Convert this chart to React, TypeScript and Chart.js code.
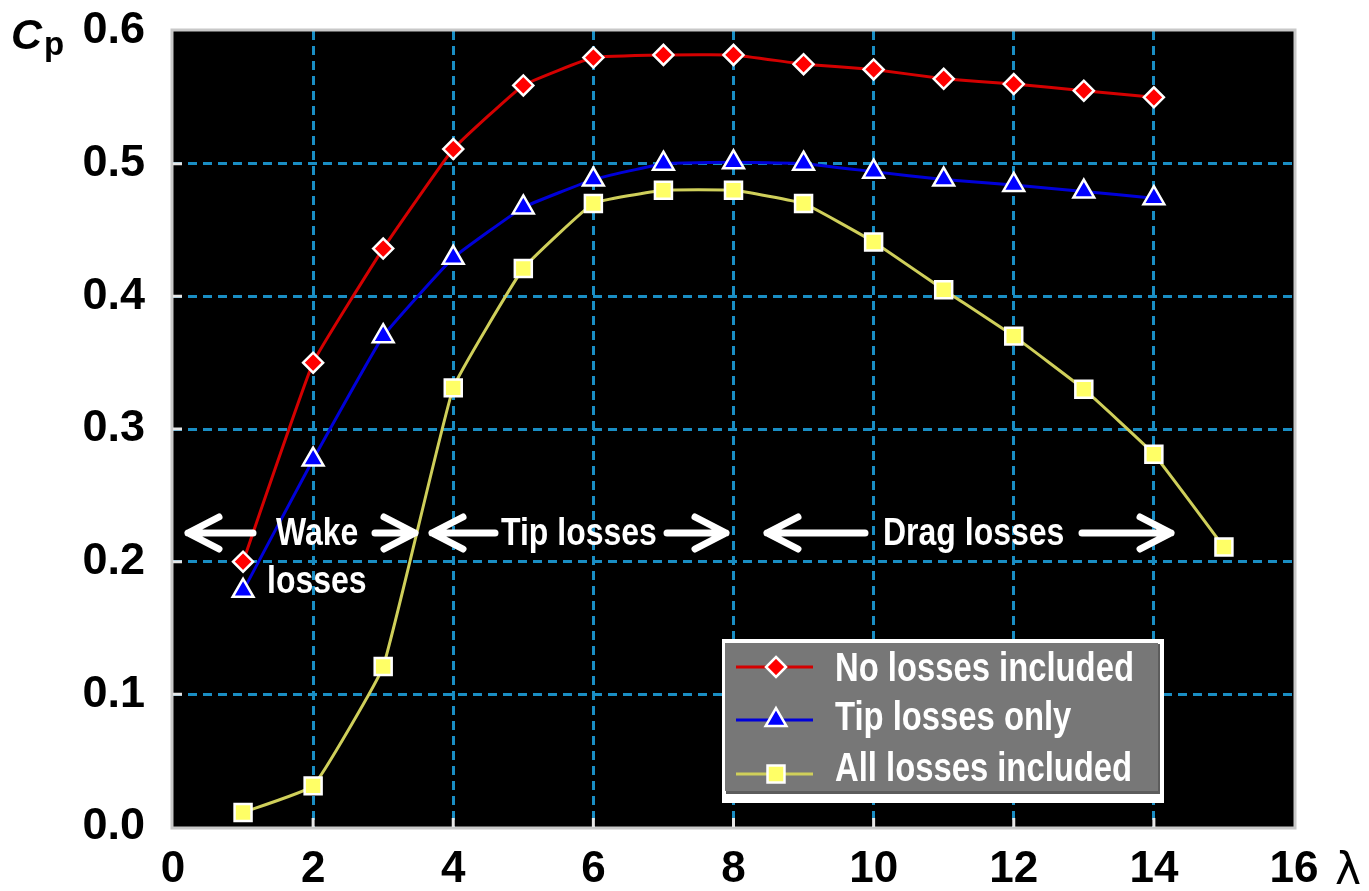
import React, { useEffect, useRef } from 'react';
import { Chart, registerables } from 'chart.js';

Chart.register(...registerables);

// ---------- data ----------
const lambdaShort = [1, 2, 3, 4, 5, 6, 7, 8, 9, 10, 11, 12, 13, 14];
const lambdaLong = [1, 2, 3, 4, 5, 6, 7, 8, 9, 10, 11, 12, 13, 14, 15];
const noLosses = [0.2, 0.35, 0.436, 0.511, 0.559, 0.58, 0.582, 0.582, 0.575, 0.571, 0.564, 0.56, 0.555, 0.55];
const tipOnly = [0.178, 0.277, 0.37, 0.429, 0.467, 0.488, 0.5, 0.501, 0.5, 0.494, 0.488, 0.484, 0.479, 0.474];
const allLosses = [0.011, 0.031, 0.121, 0.331, 0.421, 0.47, 0.48, 0.48, 0.47, 0.441, 0.405, 0.37, 0.33, 0.281, 0.211];
const seriesNames = ['No losses included', 'Tip losses only', 'All losses included'];
const xTicks = [0, 2, 4, 6, 8, 10, 12, 14, 16];
const yTicks = [0, 0.1, 0.2, 0.3, 0.4, 0.5, 0.6];

// annotations (data units): arrows [tipX, tailX, y]
const arrowsData: [number, number, number][] = [
  [0.214, 1.142, 0.2216],
  [3.454, 2.883, 0.2216],
  [3.697, 4.596, 0.2216],
  [7.893, 7.051, 0.2216],
  [8.478, 9.877, 0.2216],
  [14.245, 12.974, 0.2216],
];
// texts [label, x, baselineY]
const textsData: [string, number, number][] = [
  ['Wake', 1.47, 0.2125],
  ['losses', 1.342, 0.1763],
  ['Tip losses', 4.682, 0.2125],
  ['Drag losses', 10.134, 0.2125],
];

const FONT = '"Liberation Sans", Arial, Helvetica, sans-serif';
const GRID = '#1a8ec4';

function narrowText(ctx: CanvasRenderingContext2D, text: string, x: number, y: number, size: number) {
  ctx.save();
  ctx.translate(x, y);
  ctx.scale(0.82, 1);
  ctx.font = `bold ${size}px ${FONT}`;
  ctx.textAlign = 'left';
  ctx.textBaseline = 'alphabetic';
  ctx.fillStyle = '#ffffff';
  ctx.fillText(text, 0, 0);
  ctx.restore();
}

function drawArrow(ctx: CanvasRenderingContext2D, tip: number, tail: number, y: number) {
  const dir = tip < tail ? -1 : 1;
  ctx.save();
  ctx.strokeStyle = '#ffffff';
  ctx.lineWidth = 7;
  ctx.lineCap = 'round';
  ctx.lineJoin = 'round';
  ctx.beginPath();
  ctx.moveTo(tail, y);
  ctx.lineTo(tip, y);
  ctx.moveTo(tip - dir * 31, y - 16);
  ctx.lineTo(tip, y);
  ctx.lineTo(tip - dir * 31, y + 16);
  ctx.stroke();
  ctx.restore();
}

const styles = [
  { line: '#d40000', fill: '#ff0000', point: 'rectRot', radius: 10 },
  { line: '#0000d8', fill: '#0000ff', point: 'triangle', radius: 12 },
  { line: '#cfcf5a', fill: '#ffff66', point: 'rect', radius: 12 },
];

function drawMarker(ctx: CanvasRenderingContext2D, style: string, r: number, x: number, y: number) {
  ctx.beginPath();
  if (style === 'rectRot') {
    ctx.moveTo(x, y - r);
    ctx.lineTo(x + r, y);
    ctx.lineTo(x, y + r);
    ctx.lineTo(x - r, y);
    ctx.closePath();
  } else if (style === 'triangle') {
    const h = r * 1.5;
    const w = r * Math.sqrt(3) / 2;
    ctx.moveTo(x, y - r);
    ctx.lineTo(x + w, y - r + h);
    ctx.lineTo(x - w, y - r + h);
    ctx.closePath();
  } else {
    const s = r * Math.SQRT1_2;
    ctx.rect(x - s, y - s, 2 * s, 2 * s);
  }
  ctx.fill();
  ctx.stroke();
}

const customPlugin = {
  id: 'custom',
  beforeDraw(chart: any) {
    const { ctx, chartArea: a } = chart;
    ctx.save();
    ctx.fillStyle = '#ffffff';
    ctx.fillRect(0, 0, chart.width, chart.height);
    ctx.fillStyle = '#000000';
    ctx.fillRect(a.left, a.top, a.right - a.left, a.bottom - a.top);
    ctx.restore();
  },
  beforeDatasetsDraw(chart: any) {
    const { ctx, chartArea: a, scales } = chart;
    ctx.save();
    ctx.strokeStyle = '#c8c8c8';
    ctx.lineWidth = 3;
    ctx.strokeRect(a.left - 1, a.top - 1, a.right - a.left + 2, a.bottom - a.top + 2);
    ctx.strokeStyle = '#e6e6e6';
    ctx.lineWidth = 3;
    ctx.beginPath();
    yTicks.slice(1, -1).forEach((v) => {
      const py = scales.y.getPixelForValue(v);
      ctx.moveTo(a.left, py);
      ctx.lineTo(a.left + 9, py);
    });
    xTicks.slice(1, -1).forEach((v) => {
      const px = scales.x.getPixelForValue(v);
      ctx.moveTo(px, a.bottom);
      ctx.lineTo(px, a.bottom - 9);
    });
    ctx.stroke();
    ctx.restore();
  },
  afterDatasetsDraw(chart: any) {
    const { ctx, scales } = chart;
    arrowsData.forEach(([tip, tail, y]) => {
      drawArrow(ctx, scales.x.getPixelForValue(tip), scales.x.getPixelForValue(tail), scales.y.getPixelForValue(y));
    });
    textsData.forEach(([t, x, y]) => {
      narrowText(ctx, t, scales.x.getPixelForValue(x), scales.y.getPixelForValue(y), 39);
    });

    // legend
    const lx = 722, ly = 639, lw = 442, lh = 164;
    ctx.save();
    ctx.fillStyle = '#ffffff';
    ctx.fillRect(lx, ly, lw, lh);
    ctx.fillStyle = '#5c5c5c';
    ctx.fillRect(lx + 4, ly + 5, lw - 8, lh - 14);
    ctx.fillStyle = '#777777';
    ctx.fillRect(lx + 3, ly + 4, lw - 9, lh - 16);
    ctx.restore();
    const rowsY = [667, 720, 774];
    const baseY = [681, 730, 781];
    styles.forEach((s, i) => {
      const y = rowsY[i];
      ctx.save();
      ctx.strokeStyle = s.line;
      ctx.lineWidth = 3;
      ctx.beginPath();
      ctx.moveTo(736, y);
      ctx.lineTo(813, y);
      ctx.stroke();
      ctx.fillStyle = s.fill;
      ctx.strokeStyle = '#ffffff';
      ctx.lineWidth = 2.5;
      drawMarker(ctx, s.point, s.radius, 776, y);
      ctx.restore();
      narrowText(ctx, seriesNames[i], 835, baseY[i], 40);
    });
  },
  afterDraw(chart: any) {
    const { ctx } = chart;
    ctx.save();
    ctx.fillStyle = '#000000';
    ctx.textAlign = 'left';
    ctx.textBaseline = 'alphabetic';
    ctx.font = `italic bold 43px ${FONT}`;
    ctx.fillText('C', 11, 49);
    ctx.font = `bold 33px ${FONT}`;
    ctx.fillText('p', 44, 55);
    ctx.font = `44px "DejaVu Sans", sans-serif`;
    ctx.fillText('λ', 1335, 884);
    ctx.restore();
  },
};

export default function App() {
  const ref = useRef<HTMLCanvasElement>(null);
  useEffect(() => {
    document.body.style.margin = '0';
    const canvas = ref.current!;
    const mk = (xs: number[], ys: number[]) => xs.map((x, i) => ({ x, y: ys[i] }));
    const seriesData = [mk(lambdaShort, noLosses), mk(lambdaShort, tipOnly), mk(lambdaLong, allLosses)];
    const chart = new Chart(canvas, {
      type: 'line',
      data: {
        datasets: seriesData.map((d, i) => ({
          label: seriesNames[i],
          data: d,
          borderColor: styles[i].line,
          borderWidth: 3,
          backgroundColor: styles[i].fill,
          pointBackgroundColor: styles[i].fill,
          pointBorderColor: '#ffffff',
          pointBorderWidth: 2.5,
          pointStyle: styles[i].point as any,
          pointRadius: styles[i].radius,
          tension: 0.1,
          fill: false,
        })),
      },
      options: {
        responsive: false,
        animation: false,
        devicePixelRatio: 1,
        layout: { padding: { left: 0, top: 31, right: 75, bottom: 0 } },
        plugins: { legend: { display: false }, tooltip: { enabled: false } },
        events: [],
        scales: {
          x: {
            type: 'linear',
            min: 0,
            max: 16,
            afterFit: (s: any) => { s.height = 64; s.paddingLeft = 0; s.paddingRight = 0; },
            afterBuildTicks: (s: any) => { s.ticks = xTicks.map((v) => ({ value: v })); },
            ticks: {
              padding: 16,
              color: '#000000',
              font: { family: FONT, size: 44, weight: 'bold' },
              maxRotation: 0,
              callback: (v: any) => String(v),
            },
            grid: {
              drawTicks: false,
              lineWidth: 3,
              color: (c: any) => (c.tick && (c.tick.value === 0 || c.tick.value === 16) ? 'rgba(0,0,0,0)' : GRID),
            },
            border: { display: false, dash: [9, 6] },
          },
          y: {
            type: 'linear',
            min: 0,
            max: 0.6,
            afterFit: (s: any) => { s.width = 173; s.paddingTop = 0; s.paddingBottom = 0; },
            afterBuildTicks: (s: any) => { s.ticks = yTicks.map((v) => ({ value: v })); },
            ticks: {
              padding: 28,
              color: '#000000',
              font: { family: FONT, size: 45, weight: 'bold' },
              callback: (v: any) => Number(v).toFixed(1),
            },
            grid: {
              drawTicks: false,
              lineWidth: 3,
              color: (c: any) => (c.tick && (Math.abs(c.tick.value) < 1e-9 || Math.abs(c.tick.value - 0.6) < 1e-9) ? 'rgba(0,0,0,0)' : GRID),
            },
            border: { display: false, dash: [9, 6] },
          },
        },
      },
      plugins: [customPlugin],
    } as any);
    return () => chart.destroy();
  }, []);
  return <canvas ref={ref} width={1369} height={891} style={{ display: 'block', width: 1369, height: 891 }} />;
}
